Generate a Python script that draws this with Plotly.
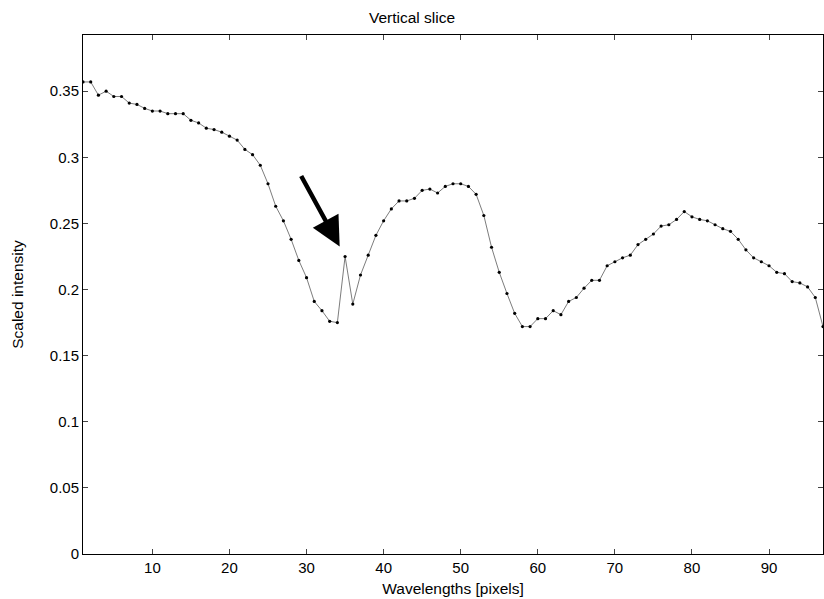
import plotly.graph_objects as go

wavelength = list(range(1, 98))
intensity = [
    0.357, 0.357, 0.347, 0.350, 0.346, 0.346, 0.341, 0.340, 0.337, 0.335,
    0.335, 0.333, 0.333, 0.333, 0.328, 0.326, 0.322, 0.321, 0.319, 0.316,
    0.313, 0.306, 0.302, 0.294, 0.280, 0.263, 0.252, 0.238, 0.222, 0.209,
    0.191, 0.184, 0.176, 0.175, 0.225, 0.189, 0.211, 0.226, 0.241, 0.252,
    0.261, 0.267, 0.267, 0.269, 0.275, 0.276, 0.273, 0.278, 0.280, 0.280,
    0.278, 0.272, 0.256, 0.232, 0.213, 0.197, 0.182, 0.172, 0.172, 0.178,
    0.178, 0.184, 0.181, 0.191, 0.194, 0.201, 0.207, 0.207, 0.218, 0.221,
    0.224, 0.226, 0.234, 0.238, 0.242, 0.248, 0.249, 0.253, 0.259, 0.255,
    0.253, 0.252, 0.249, 0.246, 0.244, 0.238, 0.230, 0.224, 0.221, 0.218,
    0.213, 0.212, 0.206, 0.205, 0.202, 0.194, 0.172,
]

y_ticks = [0, 0.05, 0.1, 0.15, 0.2, 0.25, 0.3, 0.35]
y_tick_labels = ["0", "0.05", "0.1", "0.15", "0.2", "0.25", "0.3", "0.35"]
x_ticks = [10, 20, 30, 40, 50, 60, 70, 80, 90]

fig = go.Figure()
fig.add_trace(go.Scatter(
    x=wavelength, y=intensity, mode="lines+markers",
    line=dict(color="#444444", width=0.7),
    marker=dict(color="black", size=3.2),
    showlegend=False,
))

fig.add_annotation(
    x=34.3, y=0.2326, ax=29.2, ay=0.287,
    xref="x", yref="y", axref="x", ayref="y",
    text="", showarrow=True, arrowhead=2, arrowsize=1.3,
    arrowwidth=4.5, arrowcolor="black",
)

font = dict(family="Liberation Sans, Arial, sans-serif", size=15, color="black")

fig.update_layout(
    width=824, height=599,
    margin=dict(l=83, r=1, t=35, b=45),
    paper_bgcolor="white", plot_bgcolor="white",
    font=font,
    title=dict(text="Vertical slice", x=0.5, xanchor="center",
               y=1 - 18 / 599, yanchor="middle", font=dict(size=15.5)),
)
fig.update_xaxes(
    range=[1, 97], tickvals=x_ticks, ticks="inside", ticklen=5,
    showline=True, linecolor="black", linewidth=1, mirror="ticks",
    showgrid=False, zeroline=False, automargin=False,
    title=dict(text="Wavelengths [pixels]", standoff=8, font=dict(size=15.5)),
)
fig.update_yaxes(
    range=[0, 0.3925], tickvals=y_ticks, ticktext=y_tick_labels,
    ticks="inside", ticklen=5,
    showline=True, linecolor="black", linewidth=1, mirror="ticks",
    showgrid=False, zeroline=False, automargin=False,
    title=dict(text="Scaled intensity", standoff=22, font=dict(size=15.5)),
)

fig.write_html("out.html", config={"displayModeBar": False},
               post_script="document.body.style.margin='0';")
